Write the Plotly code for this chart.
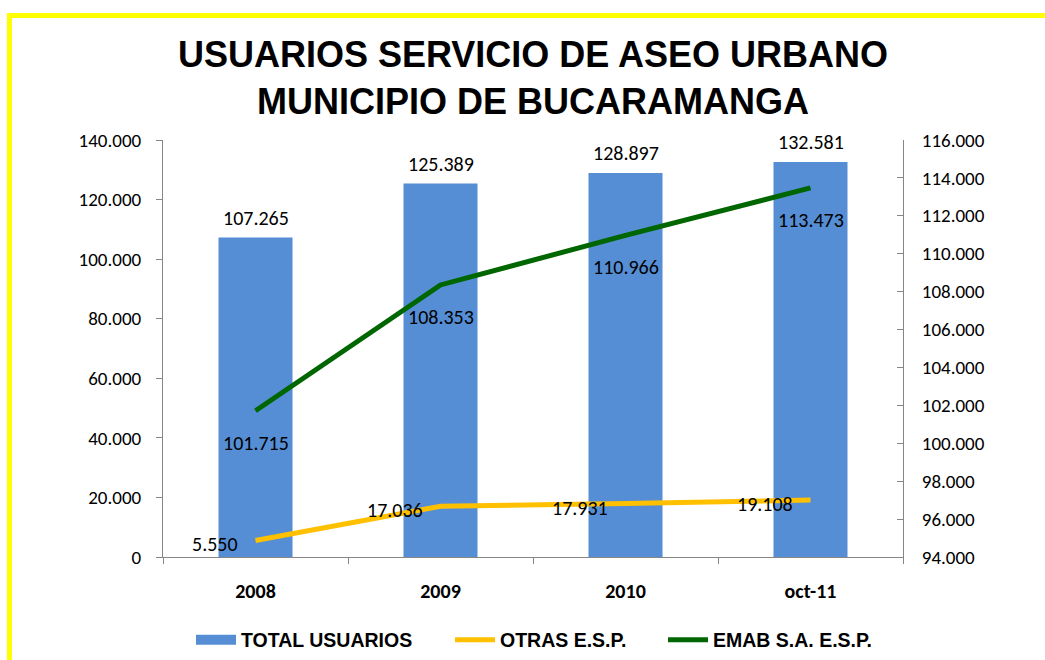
import plotly.graph_objects as go

categories = ["2008", "2009", "2010", "oct-11"]
total_usuarios = [107265, 125389, 128897, 132581]
otras_esp = [5550, 17036, 17931, 19108]
emab = [101715, 108353, 110966, 113473]

left_ticks = [0, 20000, 40000, 60000, 80000, 100000, 120000, 140000]
right_ticks = [94000 + 2000 * i for i in range(12)]


def fmt(v):
    return f"{v:,}".replace(",", ".")


W, H = 1045, 660
L, R, T, B = 163, 142, 140, 103
pw, ph = W - L - R, H - T - B

BAR = "#558ED5"
YEL = "#FFC000"
GRN = "#006600"
AX = "#868686"
NUMFONT = "Carlito, Lato, Liberation Sans, sans-serif"
BOLDFONT = "Liberation Sans, Arial, sans-serif"

fig = go.Figure()
fig.add_trace(go.Bar(x=categories, y=total_usuarios, name="TOTAL USUARIOS",
                     marker=dict(color=BAR, line=dict(width=0)), width=0.4,
                     yaxis="y", showlegend=False, legendgroup="total"))
# legend entry for the bars (wide swatch like the original)
fig.add_trace(go.Scatter(x=[None], y=[None], name="TOTAL USUARIOS",
                         mode="lines", line=dict(color=BAR, width=12),
                         legendgroup="total", hoverinfo="skip",
                         legend="legend"))
fig.add_trace(go.Scatter(x=categories, y=otras_esp, name="OTRAS E.S.P.",
                         mode="lines", line=dict(color=YEL, width=5),
                         yaxis="y", legend="legend2"))
fig.add_trace(go.Scatter(x=categories, y=emab, name="EMAB S.A. E.S.P.",
                         mode="lines", line=dict(color=GRN, width=5),
                         yaxis="y2", legend="legend3"))

annotations = []
lab_font = dict(family=NUMFONT, size=20, color="#000000")
for i, v in enumerate(total_usuarios):
    annotations.append(dict(x=i, y=v, xref="x", yref="y", text=fmt(v),
                            showarrow=False, yanchor="middle", yshift=20,
                            font=lab_font))
for i, v in enumerate(otras_esp):
    annotations.append(dict(x=i, y=v, xref="x", yref="y", text=fmt(v),
                            showarrow=False, xanchor="right", yanchor="middle",
                            xshift=-16, yshift=-4, font=lab_font))
for i, v in enumerate(emab):
    annotations.append(dict(x=i, y=v, xref="x", yref="y2", text=fmt(v),
                            showarrow=False, yanchor="middle", yshift=-32,
                            font=lab_font))

# yellow frame (top and left edges)
top_y = (H - B - 15.5) / ph
left_x = (9.5 - L) / pw
shapes = [
    dict(type="line", xref="paper", yref="paper", x0=left_x, x1=1.3,
         y0=top_y, y1=top_y, line=dict(color="#FFFF00", width=5)),
    dict(type="line", xref="paper", yref="paper", x0=left_x, x1=left_x,
         y0=top_y + 2.5 / ph, y1=-0.3, line=dict(color="#FFFF00", width=5)),
]

leg_font = dict(family=BOLDFONT, size=19.5, color="#000000", weight="bold")


def leg(px):
    return dict(orientation="h", xref="container", yref="container",
                x=px / W, xanchor="left", y=(H - 640) / H, yanchor="middle",
                font=leg_font, itemwidth=40, bgcolor="rgba(0,0,0,0)")


fig.update_layout(
    width=W, height=H,
    margin=dict(l=L, r=R, t=T, b=B, autoexpand=False),
    paper_bgcolor="white", plot_bgcolor="white",
    separators=",.",
    title=dict(text="USUARIOS SERVICIO DE ASEO URBANO<br>MUNICIPIO DE BUCARAMANGA",
               x=0.5, xref="paper", xanchor="center",
               y=1 - 67 / H, yref="container", yanchor="middle",
               font=dict(family=BOLDFONT, size=36, color="#000000",
                         weight="bold")),
    xaxis=dict(type="category", categoryorder="array",
               categoryarray=categories, range=[-0.5, len(categories) - 0.5],
               autorange=False,
               showline=True, linecolor=AX, linewidth=1,
               ticks="outside", tickson="boundaries", ticklen=6, tickcolor=AX,
               showgrid=False, ticklabelstandoff=16, tickangle=0,
               tickfont=dict(family=NUMFONT, size=20, color="#000000",
                             weight="bold")),
    yaxis=dict(range=[0, 140000], tickvals=left_ticks,
               ticktext=[fmt(v) for v in left_ticks],
               showline=True, linecolor=AX, linewidth=1,
               ticks="outside", ticklen=6, tickcolor=AX, showgrid=False,
               zeroline=False, ticklabelstandoff=11,
               tickfont=dict(family=NUMFONT, size=19, color="#000000")),
    yaxis2=dict(range=[94000, 116000], tickvals=right_ticks,
                ticktext=[fmt(v) for v in right_ticks],
                overlaying="y", side="right",
                showline=True, linecolor=AX, linewidth=1,
                ticks="inside", ticklen=6, tickcolor=AX, showgrid=False,
                zeroline=False, ticklabelstandoff=14,
                tickfont=dict(family=NUMFONT, size=19, color="#000000")),
    legend=leg(191),
    legend2=leg(450),
    legend3=leg(663),
    annotations=annotations,
    shapes=shapes,
)

fig.write_html("out.html", config={"displayModeBar": False},
               post_script="document.body.style.margin='0';")
